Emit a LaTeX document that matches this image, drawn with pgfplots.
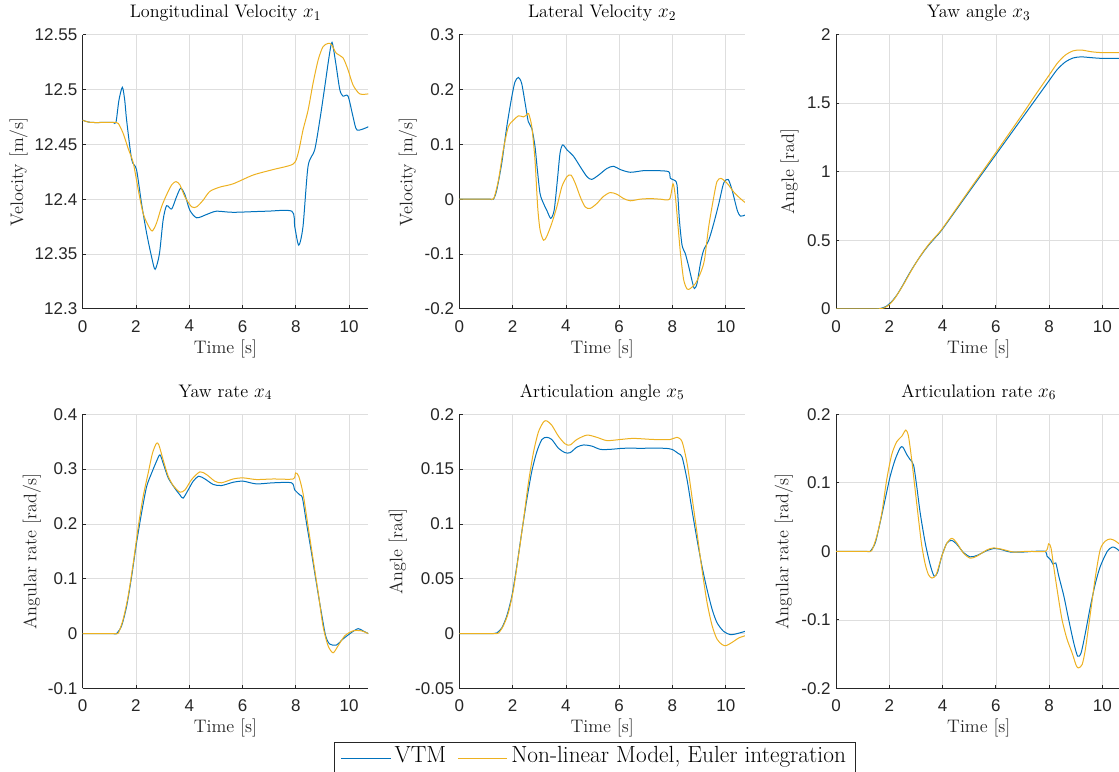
\documentclass[border=0pt]{standalone}
\usepackage{fontspec}
\usepackage{pgfplots}
\pgfplotsset{compat=1.18}
\newfontfamily\tickfont{Liberation Sans}
\definecolor{mblue}{rgb}{0,0.447,0.741}
\definecolor{myell}{rgb}{0.929,0.694,0.125}
\definecolor{axgray}{rgb}{0.15,0.15,0.15}
\pgfplotsset{
 mystyle/.style={
  scale only axis, width=214.2pt, height=205.6pt,
  anchor=north west,
  xmin=0, xmax=10.72,
  xtick={0,2,4,6,8,10}, xticklabels={0,2,4,6,8,10},
  axis x line=bottom, axis y line=left,
  axis line style={-, draw=axgray, line width=0.6pt},
  tick align=inside, major tick length=2.5pt,
  tick style={draw=axgray, line width=0.6pt},
  grid=major, major grid style={line width=0.5pt, draw=black!13},
  ticklabel style={font=\tickfont\fontsize{12.75}{15}\selectfont, text=axgray},
  xticklabel style={yshift=-5pt},
  yticklabel style={xshift=-0.5pt},
  title style={at={(axis description cs:0.5,1)}, anchor=base, yshift=6.9pt, font=\fontsize{13.6}{16}\selectfont, text=black},
  xlabel style={at={(axis description cs:0.5,0)}, anchor=base, yshift=-33.4pt, font=\fontsize{13.6}{16}\selectfont, text=axgray},
  ylabel style={anchor=base, font=\fontsize{13.6}{16}\selectfont, text=axgray},
  xlabel={Time [s]},
  every axis plot/.append style={line width=0.75pt, smooth, tension=0.45},
 }
}
\begin{document}
\begin{tikzpicture}
% ---------------- Plot 1
\begin{axis}[mystyle, at={(62.0pt,-26.0pt)},
 ymin=12.3, ymax=12.55,
 ytick={12.3,12.35,12.4,12.45,12.5,12.55}, yticklabels={12.3,12.35,12.4,12.45,12.5,12.55},
 title={Longitudinal Velocity $x_1$}, ylabel={Velocity [m/s]},
 ylabel style={at={(axis description cs:-0.2082,0.5)}}]
\addplot[mblue] coordinates {(0,12.472)(0.3,12.47)(1.0,12.47)(1.15,12.47)(1.25,12.47)(1.36,12.49)(1.49,12.502)(1.58,12.49)(1.65,12.472)(1.84,12.436)(2.02,12.427)(2.21,12.396)(2.4,12.369)(2.59,12.347)(2.72,12.336)(2.88,12.35)(3.02,12.381)(3.15,12.394)(3.34,12.391)(3.52,12.402)(3.68,12.41)(3.84,12.404)(4.02,12.39)(4.28,12.383)(4.65,12.386)(5.02,12.389)(5.65,12.388)(6.9,12.389)(7.85,12.389)(7.96,12.375)(8.11,12.358)(8.27,12.375)(8.46,12.43)(8.71,12.445)(8.92,12.475)(9.09,12.503)(9.25,12.53)(9.36,12.543)(9.5,12.524)(9.65,12.5)(9.77,12.494)(9.96,12.494)(10.15,12.475)(10.3,12.463)(10.72,12.466)};
\addplot[myell] coordinates {(0,12.472)(0.3,12.47)(1.1,12.47)(1.25,12.47)(1.34,12.469)(1.52,12.46)(1.71,12.446)(1.9,12.433)(2.09,12.408)(2.27,12.387)(2.46,12.376)(2.61,12.371)(2.77,12.378)(2.96,12.393)(3.15,12.404)(3.34,12.413)(3.5,12.416)(3.65,12.413)(3.84,12.402)(4.09,12.393)(4.28,12.393)(4.52,12.399)(4.77,12.407)(5.15,12.411)(5.65,12.414)(6.4,12.422)(7.15,12.427)(7.9,12.432)(8.09,12.442)(8.27,12.463)(8.46,12.481)(8.65,12.506)(8.84,12.527)(9.02,12.539)(9.21,12.542)(9.34,12.541)(9.52,12.533)(9.77,12.529)(9.96,12.518)(10.15,12.504)(10.4,12.496)(10.72,12.496)};
\end{axis}
% ---------------- Plot 2
\begin{axis}[mystyle, at={(344.5pt,-26.0pt)},
 ymin=-0.2, ymax=0.3,
 ytick={-0.2,-0.1,0,0.1,0.2,0.3}, yticklabels={-0.2,-0.1,0,0.1,0.2,0.3},
 title={Lateral Velocity $x_2$}, ylabel={Velocity [m/s]},
 ylabel style={at={(axis description cs:-0.1648,0.5)}}]
\addplot[mblue] coordinates {(0,0)(1.0,0)(1.15,0)(1.28,0)(1.4,0.016)(1.59,0.065)(1.78,0.132)(1.97,0.187)(2.09,0.214)(2.22,0.222)(2.34,0.211)(2.47,0.175)(2.59,0.141)(2.72,0.129)(2.84,0.096)(2.93,0.053)(3.03,0.01)(3.16,-0.008)(3.28,-0.02)(3.43,-0.035)(3.56,-0.02)(3.68,0.035)(3.78,0.084)(3.88,0.099)(4.04,0.09)(4.29,0.078)(4.54,0.059)(4.79,0.041)(4.97,0.036)(5.23,0.044)(5.54,0.056)(5.79,0.06)(6.04,0.054)(6.42,0.049)(6.92,0.052)(7.42,0.052)(7.86,0.05)(7.92,0.038)(8.05,0.035)(8.17,0.026)(8.26,-0.038)(8.36,-0.084)(8.48,-0.099)(8.61,-0.123)(8.73,-0.148)(8.82,-0.163)(8.92,-0.154)(9.05,-0.117)(9.17,-0.093)(9.36,-0.075)(9.55,-0.044)(9.74,-0.008)(9.92,0.029)(10.09,0.036)(10.24,0.016)(10.43,-0.02)(10.55,-0.031)(10.72,-0.029)};
\addplot[myell] coordinates {(0,0)(1.0,0)(1.18,0)(1.3,0.002)(1.47,0.035)(1.65,0.09)(1.84,0.132)(2.03,0.144)(2.22,0.152)(2.41,0.15)(2.53,0.154)(2.6,0.156)(2.72,0.132)(2.84,0.071)(2.94,-0.014)(3.03,-0.056)(3.16,-0.075)(3.28,-0.068)(3.47,-0.044)(3.66,-0.014)(3.85,0.023)(4.04,0.041)(4.19,0.044)(4.35,0.029)(4.54,0.004)(4.72,-0.014)(4.91,-0.017)(5.16,-0.008)(5.41,0.005)(5.66,0.012)(5.91,0.009)(6.17,0.001)(6.42,-0.003)(6.79,0)(7.17,0.001)(7.54,0)(7.89,0)(8.02,0.028)(8.11,0.004)(8.21,-0.05)(8.3,-0.099)(8.42,-0.147)(8.55,-0.164)(8.67,-0.163)(8.86,-0.154)(9.05,-0.135)(9.2,-0.111)(9.36,-0.05)(9.55,0.004)(9.67,0.032)(9.82,0.038)(10.05,0.029)(10.3,0.013)(10.55,0.001)(10.72,-0.006)};
\end{axis}
% ---------------- Plot 3
\begin{axis}[mystyle, at={(627.0pt,-26.0pt)},
 ymin=0, ymax=2,
 ytick={0,0.5,1,1.5,2}, yticklabels={0,0.5,1,1.5,2},
 title={Yaw angle $x_3$}, ylabel={Angle [rad]},
 ylabel style={at={(axis description cs:-0.1471,0.5)}}]
\addplot[mblue] coordinates {(0,0)(1.2,0)(1.5,0)(1.7,0.004)(1.9,0.02)(2.1,0.055)(2.3,0.105)(2.5,0.17)(2.7,0.24)(2.9,0.305)(3.1,0.365)(3.3,0.42)(3.5,0.47)(3.75,0.525)(4,0.583)(5,0.855)(6,1.125)(7,1.395)(7.5,1.53)(8,1.665)(8.3,1.745)(8.6,1.8)(8.9,1.83)(9.2,1.838)(9.6,1.832)(10,1.827)(10.72,1.827)};
\addplot[myell] coordinates {(0,0)(1.3,0)(1.6,0)(1.8,0.006)(2.0,0.03)(2.2,0.075)(2.4,0.135)(2.6,0.2)(2.8,0.27)(3.0,0.335)(3.25,0.41)(3.5,0.475)(3.75,0.53)(4,0.588)(5,0.865)(6,1.14)(7,1.42)(7.5,1.565)(8,1.705)(8.3,1.79)(8.6,1.85)(8.9,1.882)(9.2,1.888)(9.6,1.875)(10,1.869)(10.72,1.87)};
\end{axis}
% ---------------- Plot 4
\begin{axis}[mystyle, at={(62.0pt,-310.7pt)},
 ymin=-0.1, ymax=0.4,
 ytick={-0.1,0,0.1,0.2,0.3,0.4}, yticklabels={-0.1,0,0.1,0.2,0.3,0.4},
 title={Yaw rate $x_4$}, ylabel={Angular rate [rad/s]},
 ylabel style={at={(axis description cs:-0.1625,0.5)}}]
\addplot[mblue] coordinates {(0,0)(1.0,0)(1.15,0)(1.27,0)(1.46,0.014)(1.65,0.05)(1.84,0.105)(2.02,0.165)(2.21,0.22)(2.4,0.268)(2.59,0.293)(2.77,0.314)(2.9,0.326)(3.02,0.311)(3.21,0.284)(3.46,0.265)(3.65,0.253)(3.77,0.247)(3.96,0.262)(4.15,0.278)(4.36,0.287)(4.59,0.282)(4.9,0.272)(5.21,0.27)(5.65,0.276)(6.02,0.278)(6.52,0.273)(7.15,0.275)(7.84,0.275)(7.96,0.262)(8.15,0.253)(8.25,0.247)(8.4,0.202)(8.59,0.147)(8.77,0.093)(8.96,0.038)(9.12,-0.004)(9.27,-0.019)(9.52,-0.021)(9.77,-0.01)(10.09,0.002)(10.34,0.009)(10.52,0.005)(10.72,0)};
\addplot[myell] coordinates {(0,0)(1.05,0)(1.22,0)(1.34,0.001)(1.52,0.026)(1.71,0.069)(1.9,0.129)(2.09,0.196)(2.27,0.25)(2.46,0.293)(2.62,0.329)(2.77,0.347)(2.86,0.344)(3.02,0.317)(3.21,0.287)(3.4,0.27)(3.65,0.258)(3.84,0.262)(4.09,0.281)(4.4,0.295)(4.65,0.29)(4.96,0.278)(5.21,0.275)(5.65,0.282)(6.02,0.284)(6.52,0.281)(7.15,0.282)(7.9,0.282)(7.99,0.293)(8.11,0.287)(8.27,0.256)(8.46,0.196)(8.65,0.135)(8.84,0.075)(9.02,0.014)(9.21,-0.022)(9.4,-0.035)(9.59,-0.022)(9.84,-0.004)(10.15,0.005)(10.46,0.005)(10.72,0)};
\end{axis}
% ---------------- Plot 5
\begin{axis}[mystyle, at={(344.5pt,-310.7pt)},
 ymin=-0.05, ymax=0.2,
 ytick={-0.05,0,0.05,0.1,0.15,0.2}, yticklabels={-0.05,0,0.05,0.1,0.15,0.2},
 title={Articulation angle $x_5$}, ylabel={Angle [rad]},
 ylabel style={at={(axis description cs:-0.1993,0.5)}},
 legend style={at={(axis description cs:0.5,0)}, anchor=north, xshift=-5.3pt, yshift=-40.5pt,
   draw=axgray, line width=0.6pt, font=\fontsize{17.5}{21}\selectfont,
   inner xsep=4.5pt, inner ysep=1pt,
   nodes={inner xsep=2.5pt, inner ysep=1.5pt, text height=12.5pt, text depth=5.5pt},
   /tikz/every even column/.append style={column sep=6pt}},
 legend columns=-1,
 legend image code/.code={\draw[#1, line width=0.8pt] (0pt,0pt) -- (37pt,0pt);}]
\addplot[mblue] coordinates {(0,0)(1.1,0)(1.27,0)(1.4,0.0005)(1.59,0.005)(1.78,0.016)(1.97,0.034)(2.16,0.062)(2.34,0.092)(2.53,0.122)(2.72,0.148)(2.91,0.166)(3.1,0.177)(3.28,0.179)(3.47,0.177)(3.72,0.169)(3.97,0.165)(4.16,0.165)(4.41,0.17)(4.66,0.172)(4.97,0.171)(5.29,0.168)(5.66,0.168)(6.17,0.169)(6.79,0.169)(7.67,0.169)(7.98,0.168)(8.23,0.164)(8.36,0.161)(8.55,0.14)(8.73,0.113)(8.92,0.086)(9.11,0.061)(9.3,0.04)(9.49,0.022)(9.67,0.01)(9.92,0.002)(10.18,-0.001)(10.43,0)(10.72,0.002)};
\addplot[myell] coordinates {(0,0)(1.15,0)(1.33,0)(1.47,0.0005)(1.65,0.007)(1.84,0.019)(2.03,0.04)(2.22,0.071)(2.41,0.104)(2.59,0.137)(2.78,0.165)(2.97,0.184)(3.16,0.193)(3.28,0.194)(3.47,0.19)(3.72,0.18)(3.97,0.173)(4.16,0.172)(4.41,0.177)(4.79,0.181)(5.16,0.179)(5.54,0.176)(6.04,0.177)(6.54,0.178)(7.29,0.177)(7.92,0.177)(8.17,0.179)(8.36,0.175)(8.55,0.155)(8.73,0.125)(8.92,0.092)(9.11,0.058)(9.3,0.028)(9.49,0.007)(9.67,-0.005)(9.86,-0.01)(10.01,-0.011)(10.24,-0.008)(10.49,-0.004)(10.72,-0.002)};
\legend{VTM, {Non-linear Model, Euler integration}}
\end{axis}
% ---------------- Plot 6
\begin{axis}[mystyle, at={(627.0pt,-310.7pt)},
 ymin=-0.2, ymax=0.2,
 ytick={-0.2,-0.1,0,0.1,0.2}, yticklabels={-0.2,-0.1,0,0.1,0.2},
 title={Articulation rate $x_6$}, ylabel={Angular rate [rad/s]},
 ylabel style={at={(axis description cs:-0.1671,0.5)}}]
\addplot[mblue] coordinates {(0,0)(1.0,0)(1.15,0)(1.28,0)(1.47,0.012)(1.65,0.041)(1.84,0.075)(2.03,0.109)(2.22,0.134)(2.41,0.151)(2.51,0.152)(2.66,0.141)(2.78,0.134)(2.91,0.126)(3.03,0.095)(3.16,0.056)(3.35,0.012)(3.53,-0.019)(3.68,-0.036)(3.81,-0.031)(3.97,-0.007)(4.16,0.012)(4.35,0.016)(4.54,0.01)(4.79,-0.002)(5.04,-0.008)(5.29,-0.006)(5.66,0.001)(5.91,0.004)(6.17,0.003)(6.54,-0.001)(7.04,-0.001)(7.42,0)(7.86,0)(7.92,-0.007)(8.05,-0.012)(8.15,-0.019)(8.25,-0.017)(8.36,-0.036)(8.55,-0.065)(8.73,-0.099)(8.92,-0.133)(9.07,-0.153)(9.2,-0.148)(9.36,-0.119)(9.55,-0.08)(9.74,-0.046)(9.92,-0.022)(10.18,0)(10.36,0.006)(10.49,0.005)(10.72,-0.002)};
\addplot[myell] coordinates {(0,0)(1.05,0)(1.2,0)(1.34,0.001)(1.53,0.022)(1.72,0.056)(1.9,0.104)(2.09,0.141)(2.28,0.16)(2.47,0.168)(2.62,0.177)(2.72,0.168)(2.84,0.134)(2.97,0.09)(3.1,0.046)(3.22,0.008)(3.35,-0.019)(3.47,-0.034)(3.6,-0.039)(3.76,-0.034)(3.97,-0.007)(4.16,0.012)(4.35,0.019)(4.54,0.012)(4.79,-0.003)(5.04,-0.01)(5.29,-0.007)(5.66,0.002)(5.91,0.005)(6.23,0.003)(6.67,-0.001)(7.17,0)(7.86,0)(7.98,0.011)(8.07,0.005)(8.17,-0.022)(8.3,-0.056)(8.48,-0.099)(8.67,-0.128)(8.86,-0.148)(9.02,-0.167)(9.11,-0.17)(9.24,-0.165)(9.36,-0.143)(9.55,-0.09)(9.74,-0.036)(9.92,0.003)(10.11,0.015)(10.3,0.018)(10.49,0.015)(10.72,0.008)};
\end{axis}
\pgfresetboundingbox
\path[use as bounding box] (0pt,0pt) rectangle (839.25pt,-578.25pt);
\end{tikzpicture}
\end{document}
